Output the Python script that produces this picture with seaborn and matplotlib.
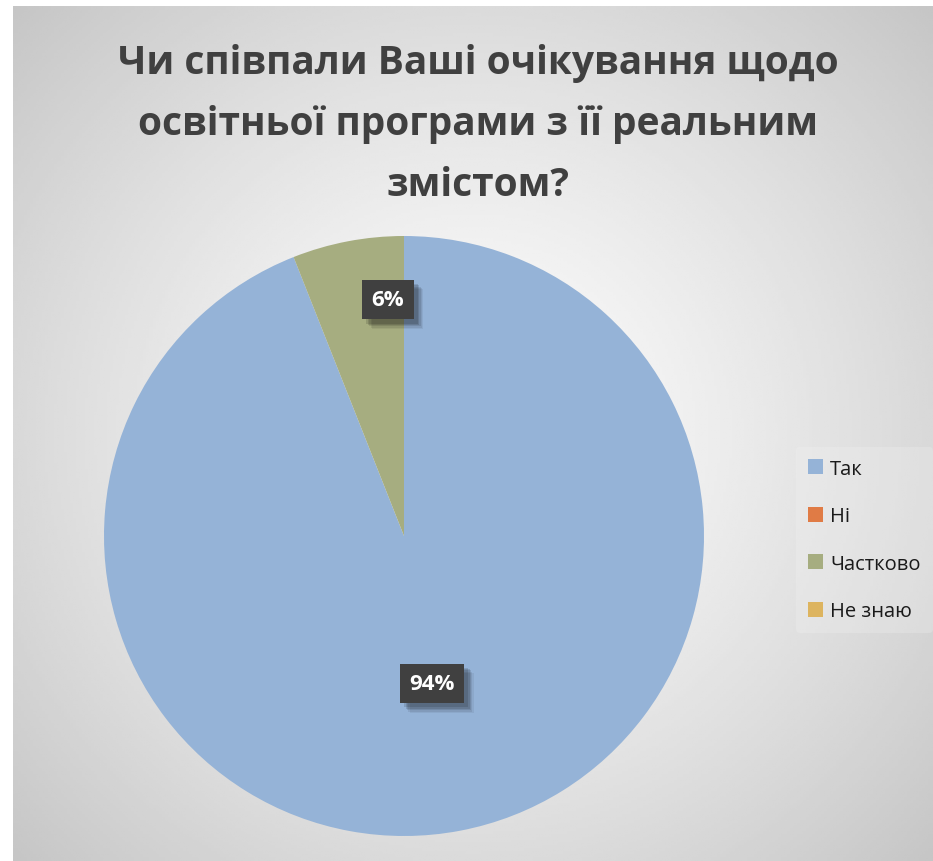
import numpy as np
import seaborn as sns
import matplotlib.pyplot as plt
import matplotlib.patheffects as pe

sns.set_theme(style="white")
plt.rcParams["font.family"] = ["Open Sans", "DejaVu Sans"]

# data
categories = ["Так", "Ні", "Частково", "Не знаю"]
shares = [94, 0, 6, 0]
colors = ["#95B3D7", "#E07B45", "#A6AD80", "#DDB45F"]
title = "Чи співпали Ваші очікування щодо\nосвітньої програми з її реальним\nзмістом?"

W, H = 933, 862
fig = plt.figure(figsize=(W / 100, H / 100), dpi=100)

# radial grey background of the chart area
bg = fig.add_axes([13 / W, 0, (W - 13) / W, (H - 7) / H])
yy, xx = np.mgrid[0:1:300j, 0:1:300j]
d = np.sqrt(((xx - 0.50) * 1.0) ** 2 + ((yy - 0.50) * 0.95) ** 2) / 0.70
grey = np.clip(0.99 - 0.22 * d ** 1.3, 0, 1)
bg.imshow(grey, cmap="gray", vmin=0, vmax=1, extent=(0, 1, 0, 1), aspect="auto", origin="upper")
bg.set_axis_off()

# pie
ax = fig.add_axes([104 / W, 25 / H, 600 / W, 600 / H])
wedges, _ = ax.pie(shares, colors=colors, startangle=90, counterclock=False,
                   wedgeprops=dict(linewidth=0))
ax.set_xlim(-1, 1)
ax.set_ylim(-1, 1)
ax.set_aspect("equal")

# soft shadow for the label boxes
soft_shadow = [pe.SimplePatchShadow(offset=(o, -o), shadow_rgbFace="#000000", alpha=a)
               for o, a in [(7, 0.06), (6, 0.08), (5, 0.10), (4, 0.12), (3, 0.12)]]
soft_shadow.append(pe.Normal())

# data labels (only non-zero slices), placed like Excel's best fit
label_r = {0: 0.5, 2: 0.79}
label_frac = {0: 0.5, 2: 0.18}
total = sum(shares)
start = 90.0
for i, v in enumerate(shares):
    span = 360.0 * v / total
    if v > 0:
        ang = np.deg2rad(start - span * (1 - label_frac[i]))
        r = label_r[i]
        t = ax.text(r * np.cos(ang), r * np.sin(ang), f"{v}%", ha="center", va="center",
                    color="white", fontsize=16, fontweight="bold",
                    bbox=dict(boxstyle="square,pad=0.42", facecolor="#404040", edgecolor="none"))
        t.get_bbox_patch().set_path_effects(soft_shadow)
    start -= span

fig.text(478 / W, 1 - 44 / H, title, ha="center", va="top", fontsize=28,
         fontweight="bold", color="#404040", linespacing=1.74)

leg = fig.legend(wedges, categories, loc="center left",
                 bbox_to_anchor=(786 / W, 1 - 541 / H), frameon=True,
                 fontsize=14.5, handlelength=0.75, handleheight=0.75,
                 handletextpad=0.35, labelspacing=1.37, borderpad=0.6)
leg.get_frame().set_facecolor("#f4f4f4")
leg.get_frame().set_alpha(0.25)
leg.get_frame().set_edgecolor("none")
for txt in leg.get_texts():
    txt.set_color("#1a1a1a")

fig.savefig("out.png", dpi=100)
